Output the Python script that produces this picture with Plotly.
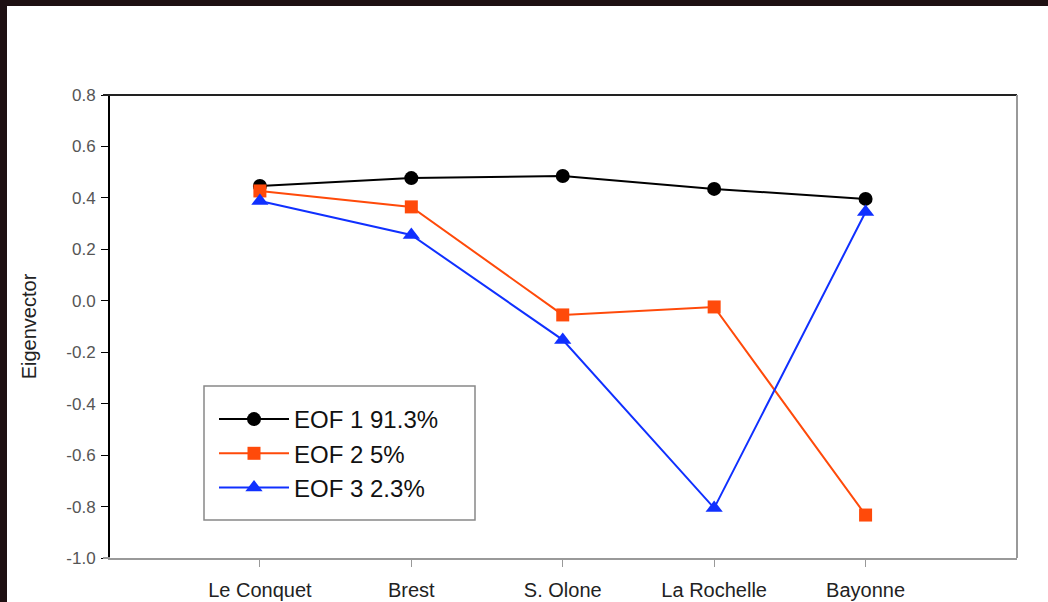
import plotly.graph_objects as go

stations = ["Le Conquet", "Brest", "S. Olone", "La Rochelle", "Bayonne"]
eof1 = [0.446, 0.477, 0.485, 0.435, 0.396]
eof2 = [0.427, 0.365, -0.055, -0.024, -0.833]
eof3 = [0.388, 0.256, -0.152, -0.806, 0.345]
series_names = ["EOF 1 91.3%", "EOF 2 5%", "EOF 3 2.3%"]
ytick_vals = [0.8, 0.6, 0.4, 0.2, 0.0, -0.2, -0.4, -0.6, -0.8, -1.0]
ytick_text = ["0.8", "0.6", "0.4", "0.2", "0.0", "-0.2", "-0.4", "-0.6", "-0.8", "-1.0"]

W, H = 1048, 602
L, R, T, B = 110, 31, 95, 44
pw, ph = W - L - R, H - T - B


def px_x(p):
    return (p - L) / pw


def px_y(p):
    return (H - B - p) / ph


fig = go.Figure()
fig.add_trace(go.Scatter(x=stations, y=eof1, name=series_names[0], mode="lines+markers",
                         line=dict(color="#000000", width=2),
                         marker=dict(symbol="circle", size=14, color="#000000")))
fig.add_trace(go.Scatter(x=stations, y=eof2, name=series_names[1], mode="lines+markers",
                         line=dict(color="#FF4A0A", width=2),
                         marker=dict(symbol="square", size=13, color="#FF4A0A")))
fig.add_trace(go.Scatter(x=stations, y=eof3, name=series_names[2], mode="lines+markers",
                         line=dict(color="#1030FF", width=2),
                         marker=dict(symbol="triangle-up", size=15, color="#1030FF")))

dark = "#1e1012"
shapes = [
    # top border and right border of plot frame
    dict(type="line", xref="paper", yref="paper", x0=-7 / pw, x1=1, y0=1, y1=1,
         line=dict(color="#222222", width=2)),
    dict(type="line", xref="paper", yref="paper", x0=1, x1=1, y0=0, y1=1,
         line=dict(color="#999999", width=2)),
    dict(type="line", xref="paper", yref="paper", x0=-7 / pw, x1=0, y0=0, y1=0,
         line=dict(color="#999999", width=2)),
    # legend box
    dict(type="rect", xref="paper", yref="paper", x0=px_x(204), x1=px_x(475),
         y0=px_y(520), y1=px_y(386), fillcolor="white",
         line=dict(color="#888888", width=1.5), layer="below"),
    # dark photo frame strips
    dict(type="rect", xref="paper", yref="paper", x0=-(L + 2) / pw, x1=(7 - L) / pw,
         y0=-(B + 2) / ph, y1=1 + (T + 2) / ph, fillcolor=dark, line=dict(width=0)),
    dict(type="rect", xref="paper", yref="paper", x0=-(L + 2) / pw, x1=1 + (R + 2) / pw,
         y0=1 + (T - 6) / ph, y1=1 + (T + 2) / ph, fillcolor=dark, line=dict(width=0)),
]

fig.update_layout(
    width=W, height=H,
    margin=dict(l=L, r=R, t=T, b=B, autoexpand=False),
    paper_bgcolor="white", plot_bgcolor="rgba(0,0,0,0)",
    font=dict(family="Liberation Sans, Arial, sans-serif", color="#222222"),
    showlegend=True,
    legend=dict(x=px_x(214), y=px_y(397), xanchor="left", yanchor="top",
                bgcolor="rgba(0,0,0,0)", borderwidth=0, itemwidth=70,
                font=dict(size=24, color="#111111"), tracegroupgap=0),
    shapes=shapes,
    xaxis=dict(type="category", categoryorder="array", categoryarray=stations,
               range=[-0.99, 5], showgrid=False, zeroline=False, automargin=False,
               showline=True, linecolor="#999999", linewidth=2,
               ticks="outside", ticklen=7, tickcolor="#999999", tickwidth=1,
               ticklabelstandoff=6,
               tickfont=dict(size=20, color="#222222")),
    yaxis=dict(range=[-1.0, 0.8], tickvals=ytick_vals, ticktext=ytick_text,
               showgrid=False, zeroline=False, automargin=False,
               showline=True, linecolor="#000000", linewidth=2,
               ticks="outside", ticklen=7, tickcolor="#000000", tickwidth=1,
               ticklabelstandoff=2,
               tickfont=dict(size=17, color="#555555"),
               title=dict(text="Eigenvector", font=dict(size=20, color="#222222"), standoff=24)),
)

fig.write_html("out.html")
